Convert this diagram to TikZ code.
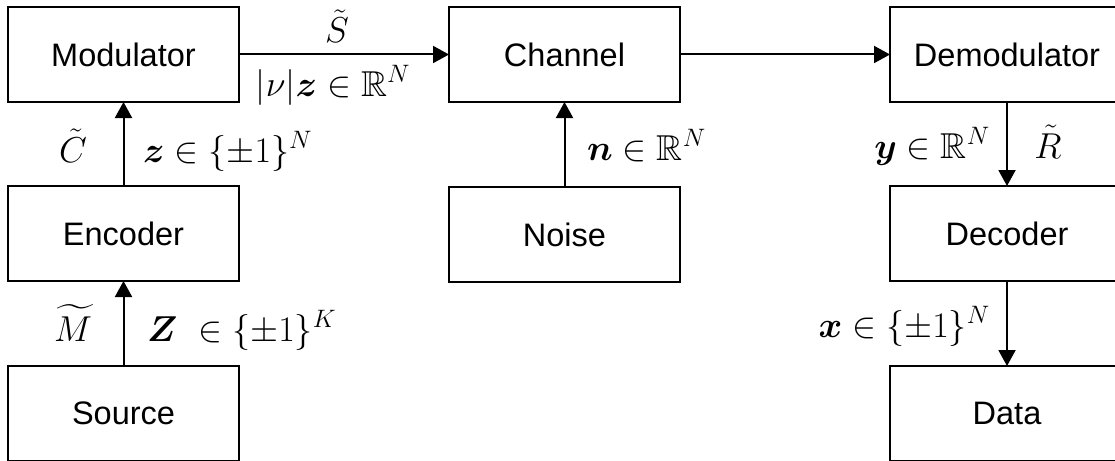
\RequirePackage{fix-cm}
\documentclass[tikz,border=0pt]{standalone}
\usepackage{amsmath,amssymb,bm}
\usepackage[no-math]{fontspec}
\newfontfamily\arialf{Liberation Sans}
\usetikzlibrary{arrows.meta}
\begin{document}
\begin{tikzpicture}[x=1pt,y=-1pt,
  box/.style={draw, line width=2.2pt, minimum width=231pt, minimum height=95pt,
    inner sep=0pt, outer sep=0pt, anchor=north west,
    font=\arialf\fontsize{32.5}{39}\selectfont},
  rbox/.style={box, minimum width=234pt},
  lab/.style={font=\fontsize{36}{43}\selectfont, inner sep=0pt},
  arr/.style={line width=2pt, -{Triangle[width=17pt,length=16pt]}}]
\useasboundingbox (0,0) rectangle (1115,460);
\clip (0,0) rectangle (1115,460);
% boxes
\node[box] (mod) at (8,7) {Modulator};
\node[box] (enc) at (8,186) {Encoder};
\node[box] (src) at (8,366) {Source};
\node[box] (chan) at (449,7) {Channel};
\node[box] (noise) at (449,187) {Noise};
\node[rbox] (demod) at (890,7) {Demodulator};
\node[rbox] (dec) at (890,186) {Decoder};
\node[rbox] (data) at (890,366) {Data};
% connectors
\draw[arr] (src.north) -- (enc.south);
\draw[arr] (enc.north) -- (mod.south);
\draw[arr] (mod.east) -- (chan.west);
\draw[arr] (noise.north) -- (chan.south);
\draw[arr] (chan.east) -- (demod.west);
\draw[arr] (demod.south) -- (dec.north);
\draw[arr] (dec.south) -- (data.north);
% labels
\node[lab, anchor=base] (ls) at (337,43) {$\tilde{S}$};
\node[lab, anchor=base] (lnu) at (333,96) {$|\nu|\bm{z} \in \mathbb{R}^N$};
\node[lab, anchor=base] (lc) at (73,162) {$\tilde{C}$};
\node[lab, anchor=base west] (lz) at (143,162) {$\bm{z} \in \{\pm 1\}^N$};
\node[lab, anchor=base] (lm) at (73,341) {$\widetilde{M}$};
\node[lab, anchor=base west] (lZ) at (147,341) {$\bm{Z}\ \in \{\pm 1\}^K$};
\node[lab, anchor=base west] (ln) at (587,160) {$\bm{n} \in \mathbb{R}^N$};
\node[lab, anchor=base east] (ly) at (990,158) {$\bm{y} \in \mathbb{R}^N$};
\node[lab, anchor=base] (lr) at (1048,158) {$\tilde{R}$};
\node[lab, anchor=base east] (lx) at (990,337) {$\bm{x} \in \{\pm 1\}^N$};
\end{tikzpicture}
\end{document}
